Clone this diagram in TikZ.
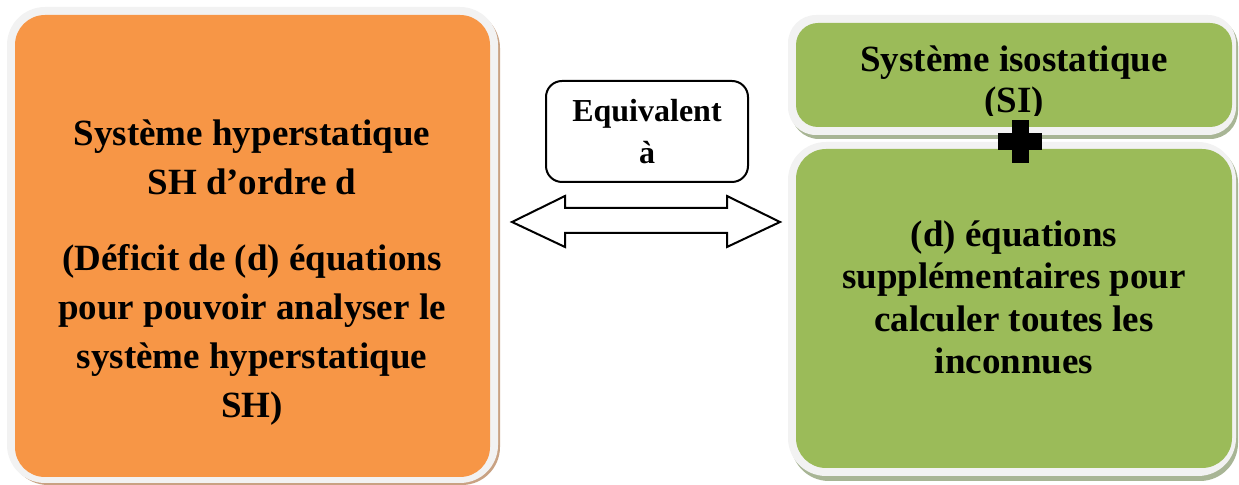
\documentclass[tikz,border=0pt]{standalone}
\usepackage{fontspec}
\setmainfont{Liberation Serif}
\definecolor{sysorange}{HTML}{F79646}
\definecolor{sysgreen}{HTML}{9BBB59}
\definecolor{framegrey}{HTML}{F2F2F2}
\definecolor{orangeshadow}{HTML}{C9A283}
\definecolor{greenshadow}{HTML}{A8B595}
\begin{document}
\begin{tikzpicture}[x=0.5pt, y=-0.5pt,
	font=\bfseries\fontsize{18.5}{24.5}\selectfont,
	txt/.style={align=center, anchor=base, inner sep=0pt},
	eqbox/.style={draw, line width=1pt, rounded corners=8pt, fill=white,
		minimum width=101pt, minimum height=50.5pt, align=center,
		font=\bfseries\fontsize{16}{21}\selectfont}]
	\useasboundingbox (0,0) rectangle (1239,485);

	% boite de gauche
	\fill[orangeshadow, rounded corners=19pt] (10,10) rectangle (500,485);
	\fill[framegrey, rounded corners=19pt] (7,7) rectangle (498,483);
	\fill[sysorange, rounded corners=15pt] (15,15) rectangle (490,477);

	% boites de droite
	\fill[greenshadow, rounded corners=14pt] (791,18) rectangle (1238,139);
	\fill[framegrey, rounded corners=14pt] (788,15) rectangle (1236,135);
	\fill[sysgreen, rounded corners=11pt] (796,23) rectangle (1232,127);
	\fill[greenshadow, rounded corners=19pt] (791,145) rectangle (1238,481);
	\fill[framegrey, rounded corners=19pt] (788,142) rectangle (1236,476);
	\fill[sysgreen, rounded corners=15pt] (796,149) rectangle (1232,468);

	\node[txt] (SH) at (252,195) {Système hyperstatique\\SH d’ordre d};
	\node[txt] (deficit) at (252,418) {(Déficit de (d) équations\\pour pouvoir analyser le\\système hyperstatique\\SH)};

	\begin{scope}
		\clip (796,23) rectangle (1232,116);
		\node[txt, font=\bfseries\fontsize{18.5}{20.5}\selectfont] (SI) at (1014,113) {Système isostatique\\(SI)};
	\end{scope}
	\node[txt, font=\bfseries\fontsize{18.5}{21.25}\selectfont] (eqsup) at (1014,374) {(d) équations\\supplémentaires pour\\calculer toutes les\\inconnues};

	% signe plus
	\fill (1012,120) rectangle (1029,163);
	\fill (998,133) rectangle (1042,150);

	% equivalence
	\node[eqbox] (eq) at (647,131.5) {Equivalent\\à};
	\draw[line width=1pt, fill=white] (512,222) -- (565,196) -- (565,208) -- (727,208)
		-- (727,196) -- (780,222) -- (727,247) -- (727,233) -- (565,233) -- (565,247) -- cycle;
\end{tikzpicture}
\end{document}
